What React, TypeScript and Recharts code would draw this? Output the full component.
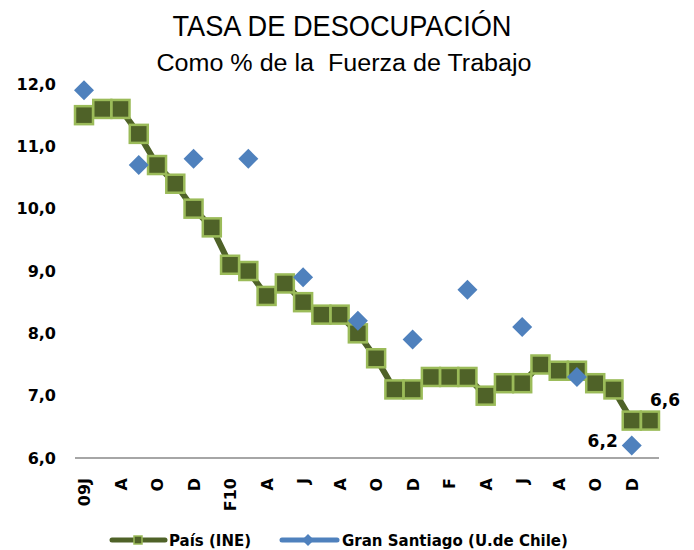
import { LineChart, Line, XAxis, YAxis } from 'recharts'

// Jun 2009 .. Jan 2012, monthly
const months = ['09J', 'J', 'A', 'S', 'O', 'N', 'D', 'E', 'F10', 'M', 'A', 'M', 'J', 'J', 'A', 'S', 'O', 'N', 'D', 'E', 'F', 'M', 'A', 'M', 'J', 'J', 'A', 'S', 'O', 'N', 'D', 'E']
const pais = [11.5, 11.6, 11.6, 11.2, 10.7, 10.4, 10.0, 9.7, 9.1, 9.0, 8.6, 8.8, 8.5, 8.3, 8.3, 8.0, 7.6, 7.1, 7.1, 7.3, 7.3, 7.3, 7.0, 7.2, 7.2, 7.5, 7.4, 7.4, 7.2, 7.1, 6.6, 6.6]
// quarterly survey (Jun, Sep, Dec, Mar)
const granSantiago = [11.9, null, null, 10.7, null, null, 10.8, null, null, 10.8, null, null, 8.9, null, null, 8.2, null, null, 7.9, null, null, 8.7, null, null, 8.1, null, null, 7.3, null, null, 6.2, null]
const yTicks = [6, 7, 8, 9, 10, 11, 12]

const OLIVE = '#4F6228'
const OLIVE_EDGE = '#9BBB59'
const BLUE = '#4F81BD'
const BOLD = '"DejaVu Sans", sans-serif'

const data = months.map((m, i) => ({ i, m, pais: pais[i], gs: granSantiago[i] }))

const fmt = (v: number) => v.toFixed(1).replace('.', ',')

function SquareDot(props: any) {
  const { cx, cy, index } = props
  if (cx == null || cy == null) return <g key={index} />
  return <rect key={index} x={cx - 9} y={cy - 9} width={18} height={18} fill={OLIVE} stroke={OLIVE_EDGE} strokeWidth={2.5} />
}

function DiamondDot(props: any) {
  const { cx, cy, index, value } = props
  if (value == null || cx == null || cy == null) return <g key={index} />
  const r = 10
  return <polygon key={index} points={`${cx},${cy - r} ${cx + r},${cy} ${cx},${cy + r} ${cx - r},${cy}`} fill={BLUE} />
}

function MonthTick(props: any) {
  const { x, y, payload } = props
  const label = payload.index % 2 === 0 ? months[payload.value] : ''
  return (
    <text
      x={0}
      y={0}
      transform={`translate(${x + 6},${y + 12}) rotate(-90)`}
      textAnchor="end"
      fontFamily={BOLD}
      fontWeight="bold"
      fontSize={16}
      fill="#000"
    >
      {label}
    </text>
  )
}

function PaisLabel(props: any) {
  const { x, y, index } = props
  if (index !== pais.length - 1) return null
  return (
    <text x={x + 15} y={y - 15} textAnchor="middle" fontFamily={BOLD} fontWeight="bold" fontSize={17} fill="#000">
      {fmt(pais[index])}
    </text>
  )
}

function GsLabel(props: any) {
  const { x, y, index, value } = props
  if (value == null || index !== 30) return null
  return (
    <text x={x - 14} y={y + 1} textAnchor="end" fontFamily={BOLD} fontWeight="bold" fontSize={17} fill="#000">
      {fmt(value)}
    </text>
  )
}

export default function App() {
  return (
    <div style={{ position: 'absolute', left: 0, top: 0, width: 694, height: 550, background: '#fff' }}>
      <svg width={694} height={80} style={{ position: 'absolute', left: 0, top: 0 }}>
        <text x={342} y={36} textAnchor="middle" fontFamily='"Liberation Sans", Arial, sans-serif' fontSize={30} textLength={339} lengthAdjust="spacingAndGlyphs" fill="#000">
          TASA DE DESOCUPACIÓN
        </text>
        <text x={344} y={71} textAnchor="middle" fontFamily='"Liberation Sans", Arial, sans-serif' fontSize={23} textLength={375} lengthAdjust="spacingAndGlyphs" fill="#000" style={{ whiteSpace: 'pre' }}>
          {'Como % de la  Fuerza de Trabajo'}
        </text>
      </svg>

      <LineChart width={694} height={550} data={data} margin={{ top: 84, right: 35, bottom: 0, left: 0 }}>
        <XAxis
          dataKey="i"
          type="category"
          interval={0}
          padding={{ left: 9, right: 9 }}
          height={92}
          axisLine={{ stroke: '#A6A6A6', strokeWidth: 2 }}
          tickLine={false}
          tick={<MonthTick />}
        />
        <YAxis
          domain={[6, 12]}
          ticks={yTicks}
          width={75}
          axisLine={false}
          tickLine={false}
          tickMargin={13}
          tickFormatter={fmt}
          tick={{ fontFamily: BOLD, fontWeight: 'bold', fontSize: 16, fill: '#000' }}
        />
        <Line
          dataKey="pais"
          stroke={OLIVE}
          strokeWidth={6}
          dot={<SquareDot />}
          activeDot={false}
          label={<PaisLabel />}
          isAnimationActive={false}
        />
        <Line
          dataKey="gs"
          stroke="none"
          dot={<DiamondDot />}
          activeDot={false}
          connectNulls={false}
          label={<GsLabel />}
          isAnimationActive={false}
        />
      </LineChart>

      <svg width={694} height={30} style={{ position: 'absolute', left: 0, top: 526 }}>
        <line x1={112} y1={14} x2={165} y2={14} stroke={OLIVE} strokeWidth={5} strokeLinecap="round" />
        <rect x={134} y={10} width={8} height={8} fill={OLIVE} stroke={OLIVE_EDGE} strokeWidth={1.5} />
        <text x={169} y={20} fontFamily={BOLD} fontWeight="bold" fontSize={15} fill="#000">País (INE)</text>
        <line x1={282} y1={14} x2={337} y2={14} stroke={BLUE} strokeWidth={5} strokeLinecap="round" />
        <polygon points="308,8 314,14 308,20 302,14" fill={BLUE} />
        <text x={342} y={20} fontFamily={BOLD} fontWeight="bold" fontSize={15} fill="#000">Gran Santiago (U.de Chile)</text>
      </svg>
    </div>
  )
}
